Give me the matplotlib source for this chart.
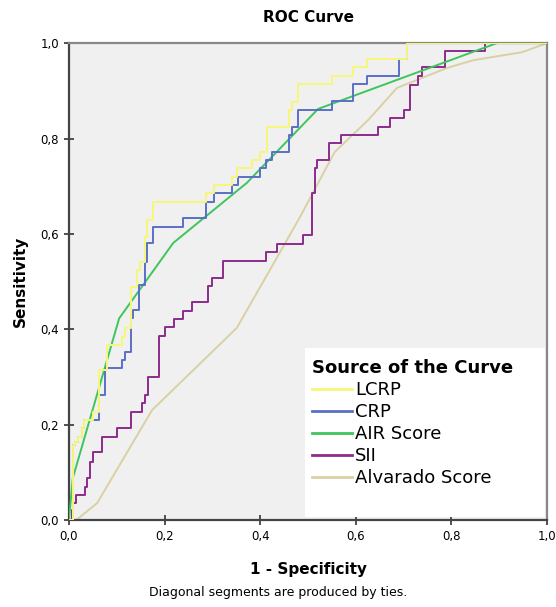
"""
plot.py - ROC curves (SPSS style)
"""

import numpy as np
from matplotlib import pyplot as plt
from matplotlib.patches import Rectangle
from matplotlib.ticker import FuncFormatter

# step curves: points at the top of each vertical rise
lcrp_fpr = [0, 0.008, 0.013, 0.019, 0.027, 0.031, 0.050, 0.063, 0.079, 0.111, 0.117,
            0.130, 0.142, 0.149, 0.159, 0.163, 0.176, 0.287, 0.303, 0.341, 0.351,
            0.383, 0.400, 0.414, 0.460, 0.467, 0.479, 0.550, 0.594, 0.623, 0.707, 1.0]
lcrp_tpr = [0, 0.157, 0.164, 0.174, 0.193, 0.210, 0.226, 0.314, 0.367, 0.384, 0.403,
            0.488, 0.524, 0.541, 0.593, 0.629, 0.667, 0.686, 0.702, 0.719, 0.738,
            0.755, 0.771, 0.824, 0.860, 0.876, 0.914, 0.931, 0.950, 0.966, 1.0, 1.0]

crp_fpr = [0, 0.008, 0.013, 0.019, 0.027, 0.031, 0.063, 0.075, 0.077, 0.111, 0.117,
           0.130, 0.134, 0.146, 0.159, 0.163, 0.176, 0.238, 0.287, 0.303, 0.341,
           0.354, 0.400, 0.412, 0.425, 0.460, 0.467, 0.479, 0.550, 0.594, 0.623,
           0.690, 0.707, 1.0]
crp_tpr = [0, 0.157, 0.164, 0.174, 0.193, 0.210, 0.262, 0.314, 0.319, 0.335, 0.352,
           0.423, 0.440, 0.493, 0.541, 0.581, 0.614, 0.633, 0.667, 0.686, 0.702,
           0.719, 0.738, 0.755, 0.771, 0.807, 0.824, 0.860, 0.878, 0.914, 0.931,
           0.966, 1.0, 1.0]

sii_fpr = [0, 0.006, 0.008, 0.015, 0.033, 0.038, 0.044, 0.050, 0.069, 0.100, 0.130,
           0.153, 0.159, 0.165, 0.188, 0.201, 0.220, 0.238, 0.257, 0.291, 0.299,
           0.322, 0.412, 0.435, 0.490, 0.508, 0.515, 0.519, 0.544, 0.569, 0.646,
           0.672, 0.701, 0.713, 0.730, 0.738, 0.787, 0.870, 1.0]
sii_tpr = [0, 0.021, 0.036, 0.052, 0.069, 0.088, 0.122, 0.143, 0.174, 0.193, 0.226,
           0.245, 0.262, 0.300, 0.386, 0.405, 0.421, 0.438, 0.457, 0.491, 0.507,
           0.543, 0.562, 0.579, 0.597, 0.686, 0.738, 0.755, 0.790, 0.807, 0.824,
           0.843, 0.860, 0.912, 0.931, 0.950, 0.983, 1.0, 1.0]

# score curves with tied values (diagonal segments)
air_fpr = [0, 0.008, 0.105, 0.218, 0.372, 0.521, 0.895, 1.0]
air_tpr = [0, 0.088, 0.423, 0.581, 0.707, 0.862, 1.0, 1.0]

alv_fpr = [0, 0.015, 0.059, 0.174, 0.351, 0.420, 0.483, 0.556, 0.626, 0.686,
           0.791, 0.845, 0.948, 1.0]
alv_tpr = [0, 0.0, 0.036, 0.231, 0.403, 0.524, 0.635, 0.772, 0.839, 0.906,
           0.948, 0.964, 0.981, 1.0]

names = ['LCRP', 'CRP', 'AIR Score', 'SII', 'Alvarado Score']
colours = ['#f7f77a', '#5a6fc6', '#3ec55c', '#8c2c8c', '#d9d1a3']

fig = plt.figure(figsize=(5.56, 6.07), dpi=100)
ax = fig.add_axes([0.124, 0.143, 0.860, 0.786])
ax.set_facecolor('#f0f0f0')

lw = 1.4
ax.plot(alv_fpr, alv_tpr, color=colours[4], lw=lw, zorder=2)
ax.plot(sii_fpr, sii_tpr, color=colours[3], lw=lw, drawstyle='steps-post', zorder=3)
ax.plot(air_fpr, air_tpr, color=colours[2], lw=lw, zorder=4)
ax.plot(crp_fpr, crp_tpr, color=colours[1], lw=lw, drawstyle='steps-post', zorder=5)
ax.plot(lcrp_fpr, lcrp_tpr, color=colours[0], lw=lw, drawstyle='steps-post', zorder=6)

ax.set_xlim(0, 1)
ax.set_ylim(0, 1)
ticks = np.linspace(0, 1, 6)
ax.set_xticks(ticks)
ax.set_yticks(ticks)
fmt = FuncFormatter(lambda v, p: ('%.1f' % v).replace('.', ','))
ax.xaxis.set_major_formatter(fmt)
ax.yaxis.set_major_formatter(fmt)
ax.tick_params(direction='inout', length=7, width=1.2, colors='#333333',
               labelsize=8.5, labelcolor='black')

for side in ['left', 'bottom']:
    ax.spines[side].set_color('#444444')
    ax.spines[side].set_linewidth(1.6)
for side in ['top', 'right']:
    ax.spines[side].set_color('#888888')
    ax.spines[side].set_linewidth(1.6)

ax.set_title('ROC Curve', fontsize=11, fontweight='bold', pad=15)
ax.set_xlabel('1 - Specificity', fontsize=11, fontweight='bold', labelpad=14)
ax.set_ylabel('Sensitivity', fontsize=11, fontweight='bold', labelpad=9)
fig.text(0.5, 0.014, 'Diagonal segments are produced by ties.', ha='center',
         va='bottom', fontsize=9)

# legend box
ax.add_patch(Rectangle((0.494, 0.006), 0.502, 0.355, transform=ax.transAxes,
                       facecolor='white', edgecolor='none', zorder=7))
handles = [plt.Line2D([], [], color=c, lw=2) for c in colours]
leg = ax.legend(handles, names, title='Source of the Curve', loc='upper left',
                bbox_to_anchor=(0.474, 0.372), frameon=False, fontsize=13,
                handlelength=2.2, handletextpad=0.2, labelspacing=0.22,
                alignment='left',
                title_fontproperties={'weight': 'bold', 'size': 13})
leg.set_zorder(8)

fig.savefig('out.png', dpi=100)
